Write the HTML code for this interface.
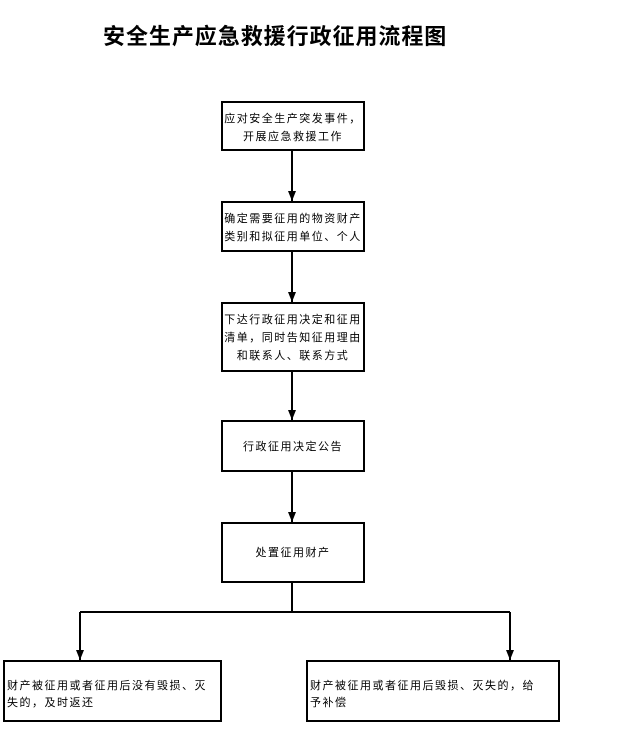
<!DOCTYPE html>
<html><head><meta charset="utf-8"><style>
body{margin:0;background:#fff;width:640px;height:725px;overflow:hidden}
svg text{font-family:"Liberation Sans","Noto Sans CJK SC","WenQuanYi Zen Hei",sans-serif;fill:#000}
.t{font-size:11px;letter-spacing:1.5px}
</style></head><body>
<svg width="640" height="725" viewBox="0 0 640 725" xmlns="http://www.w3.org/2000/svg">
<defs><marker id="a" markerWidth="10" markerHeight="8" refX="10" refY="4" orient="auto" markerUnits="userSpaceOnUse"><path d="M0,0 L10,4 L0,8 z" fill="#000"/></marker></defs>
<text x="103" y="44" font-size="22" font-weight="bold" letter-spacing="0.95">安全生产应急救援行政征用流程图</text>
<g fill="none" stroke="#000" stroke-width="2">
<rect x="222" y="102" width="142" height="48"/>
<rect x="222" y="202" width="142" height="49"/>
<rect x="222" y="303" width="142" height="68"/>
<rect x="222" y="421" width="142" height="50"/>
<rect x="222" y="523" width="142" height="59"/>
<rect x="4" y="661" width="217" height="60"/>
<rect x="307" y="661" width="252" height="60"/>
<line x1="292" y1="150" x2="292" y2="201" marker-end="url(#a)"/>
<line x1="292" y1="251" x2="292" y2="302" marker-end="url(#a)"/>
<line x1="292" y1="371" x2="292" y2="420" marker-end="url(#a)"/>
<line x1="292" y1="471" x2="292" y2="522" marker-end="url(#a)"/>
<polyline points="292,582 292,612"/>
<polyline points="80,612 510,612"/>
<line x1="80" y1="612" x2="80" y2="660" marker-end="url(#a)"/>
<line x1="510" y1="612" x2="510" y2="660" marker-end="url(#a)"/>
</g>
<g class="t" text-anchor="middle">
<text x="293" y="122">应对安全生产突发事件，</text>
<text x="293" y="140">开展应急救援工作</text>
<text x="293" y="222">确定需要征用的物资财产</text>
<text x="293" y="240">类别和拟征用单位、个人</text>
<text x="293" y="323">下达行政征用决定和征用</text>
<text x="293" y="341">清单，同时告知征用理由</text>
<text x="293" y="359">和联系人、联系方式</text>
<text x="293" y="450">行政征用决定公告</text>
<text x="293" y="556">处置征用财产</text>
</g>
<g class="t">
<text x="7" y="689">财产被征用或者征用后没有毁损、灭</text>
<text x="7" y="706">失的，及时返还</text>
<text x="310" y="689">财产被征用或者征用后毁损、灭失的，给</text>
<text x="310" y="706">予补偿</text>
</g>
</svg>
</body></html>
